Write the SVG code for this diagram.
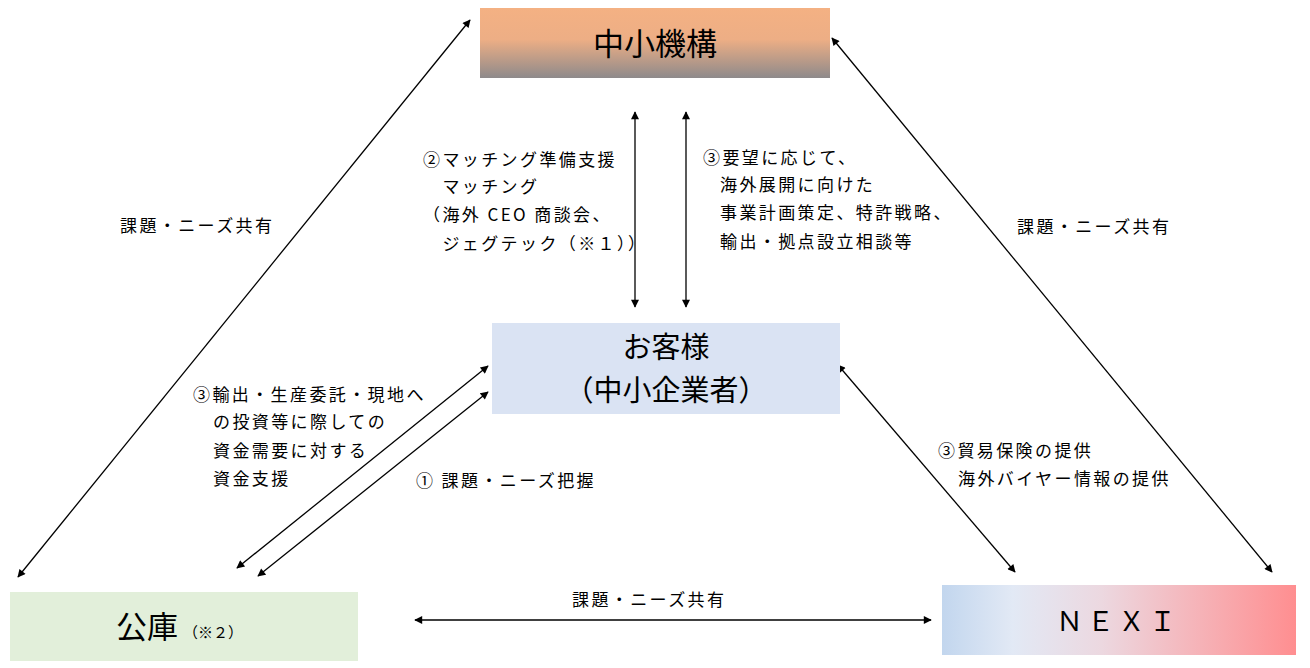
<svg xmlns="http://www.w3.org/2000/svg" width="1310" height="668" viewBox="0 0 1310 668">
<style>
.lbl{font-family:"Noto Sans CJK JP","Noto Sans",sans-serif;font-size:17px;letter-spacing:2.4px;fill:#000}
.big{font-family:"Noto Sans CJK JP","Noto Sans",sans-serif;font-size:31px;fill:#000;text-anchor:middle}
.ln{stroke:#000;stroke-width:1.3;fill:none;marker-start:url(#ah);marker-end:url(#ah)}
</style>
<defs>
<marker id="ah" viewBox="0 0 10 10" refX="9" refY="5" markerWidth="10" markerHeight="8" markerUnits="userSpaceOnUse" orient="auto-start-reverse">
<path d="M0,0 L10,5 L0,10 z" fill="#000"/>
</marker>
<linearGradient id="gTop" x1="0" y1="0" x2="0" y2="1">
<stop offset="0" stop-color="#F4B183"/>
<stop offset="0.45" stop-color="#EDAE85"/>
<stop offset="1" stop-color="#8E8A8B"/>
</linearGradient>
<linearGradient id="gNexi" x1="0" y1="0" x2="1" y2="0">
<stop offset="0" stop-color="#C2D6EE"/>
<stop offset="0.2" stop-color="#E2E9F5"/>
<stop offset="0.45" stop-color="#ECD8E0"/>
<stop offset="1" stop-color="#FF8E90"/>
</linearGradient>
</defs>
<rect width="1310" height="668" fill="#fff"/>
<g id="connectors">
<line class="ln" x1="18" y1="577" x2="470" y2="20"/>
<line class="ln" x1="832" y1="38" x2="1272" y2="572"/>
<line class="ln" x1="635" y1="112" x2="635" y2="307"/>
<line class="ln" x1="686" y1="112" x2="686" y2="307"/>
<line class="ln" x1="237" y1="568" x2="488" y2="366"/>
<line class="ln" x1="258" y1="576" x2="488" y2="392"/>
<line class="ln" x1="838" y1="365" x2="1015" y2="572"/>
<line class="ln" x1="415" y1="620" x2="931" y2="620"/>
</g>
<g id="labels">
<text class="lbl" x="120" y="232">課題・ニーズ共有</text>
<text class="lbl" x="1017" y="233">課題・ニーズ共有</text>
<text class="lbl" x="572" y="606">課題・ニーズ共有</text>
<text class="lbl" x="423" y="166">②マッチング準備支援</text>
<text class="lbl" x="423" y="193">　マッチング</text>
<text class="lbl" x="423" y="221">（海外 CEO 商談会、</text>
<text class="lbl" x="423" y="250">　ジェグテック（※１））</text>
<text class="lbl" x="703" y="164">③要望に応じて、</text>
<text class="lbl" x="720" y="191">海外展開に向けた</text>
<text class="lbl" x="720" y="219">事業計画策定、特許戦略、</text>
<text class="lbl" x="720" y="248">輸出・拠点設立相談等</text>
<text class="lbl" x="193" y="401">③輸出・生産委託・現地へ</text>
<text class="lbl" x="213" y="428">の投資等に際しての</text>
<text class="lbl" x="213" y="457">資金需要に対する</text>
<text class="lbl" x="213" y="485">資金支援</text>
<text class="lbl" x="416" y="487">①  課題・ニーズ把握</text>
<text class="lbl" x="938" y="457">③貿易保険の提供</text>
<text class="lbl" x="958" y="485">海外バイヤー情報の提供</text>
</g>
<g id="node-smrj">
<rect x="480" y="8" width="350" height="70" fill="url(#gTop)"/>
<text class="big" x="655" y="55">中小機構</text>
</g>
<g id="node-customer">
<rect x="492" y="323" width="348" height="91" fill="#DAE3F3"/>
<text class="big" x="666" y="358" style="font-size:29px">お客様</text>
<text class="big" x="666" y="401" style="font-size:29px">（中小企業者）</text>
</g>
<g id="node-jfc">
<rect x="10" y="592" width="348" height="69" fill="#E2EFDA"/>
<text class="big" x="147" y="638">公庫</text>
<text class="lbl" x="183" y="638" style="font-size:15px;letter-spacing:0">（※２）</text>
</g>
<g id="node-nexi">
<rect x="942" y="585" width="354" height="70" fill="url(#gNexi)"/>
<text class="big" x="1118" y="631" style="font-size:27px;letter-spacing:4px">ＮＥＸＩ</text>
</g>
</svg>
